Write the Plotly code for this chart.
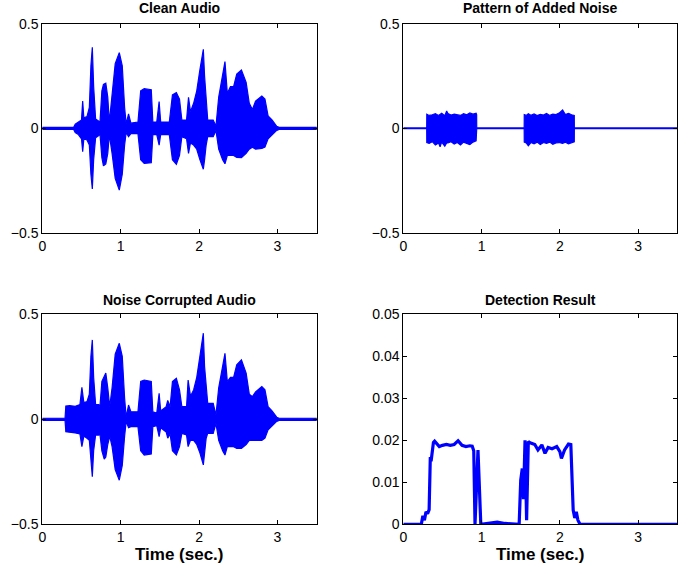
import plotly.graph_objects as go

# ---------------- data ----------------
# Clean audio: envelope (upper / lower) of the waveform
clean_t = [0, 0.40, 0.42, 0.46, 0.50, 0.515, 0.53, 0.57, 0.60, 0.62, 0.638, 0.655, 0.68, 0.72, 0.735,
           0.76, 0.78, 0.81, 0.835, 0.855, 0.89, 0.93, 0.982, 1.02, 1.05, 1.07, 1.10, 1.13, 1.22,
           1.255, 1.30, 1.39, 1.41, 1.46, 1.49, 1.51, 1.62, 1.66, 1.71, 1.75, 1.78, 1.84, 1.865,
           1.89, 1.93, 1.97, 2.01, 2.054, 2.07, 2.09, 2.11, 2.18, 2.215, 2.25, 2.30, 2.33, 2.36,
           2.40, 2.44, 2.48, 2.54, 2.60, 2.64, 2.68, 2.72, 2.80, 2.84, 2.88, 2.93, 2.99, 3.02, 3.5]
clean_up = [0.005, 0.005, 0.02, 0.03, 0.04, 0.131, 0.05, 0.056, 0.10, 0.30, 0.388, 0.20, 0.045, 0.035, 0.025,
            0.18, 0.21, 0.216, 0.15, 0.03, 0.15, 0.31, 0.363, 0.30, 0.10, 0.02, 0.069, 0.025, 0.03,
            0.18, 0.19, 0.185, 0.03, 0.03, 0.128, 0.03, 0.03, 0.16, 0.171, 0.14, 0.04, 0.04, 0.149,
            0.08, 0.12, 0.18, 0.28, 0.379, 0.25, 0.15, 0.04, 0.04, 0.01, 0.15, 0.25, 0.32, 0.168,
            0.20, 0.20, 0.26, 0.28, 0.22, 0.12, 0.09, 0.13, 0.155, 0.14, 0.06, 0.04, 0.01, 0.005, 0.005]
clean_lo = [-0.005, -0.005, -0.02, -0.03, -0.05, -0.112, -0.05, -0.056, -0.08, -0.22, -0.29, -0.15, -0.045, -0.035, -0.025,
            -0.14, -0.18, -0.17, -0.12, -0.03, -0.12, -0.24, -0.296, -0.22, -0.08, -0.02, -0.04, -0.025, -0.025,
            -0.15, -0.168, -0.165, -0.03, -0.03, -0.08, -0.03, -0.03, -0.15, -0.172, -0.13, -0.04, -0.05, -0.12,
            -0.07, -0.08, -0.10, -0.15, -0.196, -0.15, -0.08, -0.04, -0.04, -0.01, -0.10, -0.15, -0.17, -0.13,
            -0.128, -0.13, -0.139, -0.14, -0.12, -0.10, -0.09, -0.10, -0.096, -0.09, -0.05, -0.03, -0.01, -0.005, -0.005]

# Pattern of added noise: two bursts
noise_t = [0, 0.299, 0.30, 0.33, 0.37, 0.41, 0.45, 0.47, 0.49, 0.53, 0.554, 0.57, 0.61, 0.65, 0.69, 0.73, 0.77,
           0.81, 0.85, 0.89, 0.93, 0.937, 0.938,
           1.544, 1.545, 1.57, 1.597, 1.63, 1.67, 1.71, 1.75, 1.79, 1.83, 1.87, 1.91, 1.95, 1.99, 2.035,
           2.07, 2.11, 2.15, 2.184, 2.185, 3.5]
noise_up = [0.002, 0.002, 0.068, 0.062, 0.065, 0.070, 0.062, 0.066, 0.072, 0.060, 0.083, 0.071, 0.064, 0.068,
            0.066, 0.062, 0.070, 0.065, 0.074, 0.068, 0.072, 0.066, 0.002,
            0.002, 0.066, 0.062, 0.070, 0.063, 0.069, 0.061, 0.067, 0.064, 0.071, 0.062, 0.068, 0.066, 0.073,
            0.088, 0.066, 0.072, 0.065, 0.062, 0.002, 0.002]
noise_lo = [-0.002, -0.002, -0.068, -0.072, -0.064, -0.080, -0.070, -0.088, -0.066, -0.085, -0.070, -0.070,
            -0.064, -0.075, -0.068, -0.080, -0.066, -0.072, -0.078, -0.066, -0.060, -0.060, -0.002,
            -0.002, -0.066, -0.070, -0.083, -0.068, -0.074, -0.066, -0.078, -0.068, -0.072, -0.066, -0.076,
            -0.070, -0.068, -0.072, -0.066, -0.074, -0.068, -0.064, -0.002, -0.002]

# Noise corrupted audio: envelope
noisy_t = [0, 0.29, 0.30, 0.35, 0.42, 0.48, 0.505, 0.53, 0.57, 0.60, 0.62, 0.638, 0.655, 0.68, 0.72, 0.735,
           0.76, 0.79, 0.81, 0.835, 0.86, 0.89, 0.93, 0.982, 1.02, 1.05, 1.07, 1.10, 1.13, 1.22,
           1.255, 1.30, 1.39, 1.41, 1.46, 1.49, 1.51, 1.58, 1.60, 1.63, 1.66, 1.71, 1.75, 1.78, 1.84,
           1.86, 1.89, 1.93, 1.97, 2.01, 2.054, 2.07, 2.09, 2.11, 2.18, 2.215, 2.25, 2.30, 2.33, 2.36,
           2.40, 2.44, 2.48, 2.54, 2.60, 2.64, 2.68, 2.72, 2.80, 2.84, 2.88, 2.93, 2.99, 3.02, 3.5]
noisy_up = [0.005, 0.005, 0.063, 0.065, 0.062, 0.07, 0.152, 0.08, 0.084, 0.12, 0.30, 0.378, 0.20, 0.07, 0.07, 0.06,
            0.18, 0.21, 0.22, 0.15, 0.06, 0.15, 0.31, 0.362, 0.30, 0.10, 0.01, 0.068, 0.036, 0.036,
            0.18, 0.187, 0.18, 0.035, 0.03, 0.124, 0.04, 0.06, 0.09, 0.06, 0.18, 0.195, 0.14, 0.06, 0.06,
            0.187, 0.11, 0.14, 0.20, 0.30, 0.41, 0.25, 0.15, 0.076, 0.076, 0.02, 0.15, 0.25, 0.314, 0.18,
            0.20, 0.20, 0.26, 0.283, 0.22, 0.12, 0.108, 0.13, 0.156, 0.14, 0.06, 0.04, 0.01, 0.005, 0.005]
noisy_lo = [-0.005, -0.005, -0.059, -0.063, -0.065, -0.07, -0.13, -0.08, -0.09, -0.10, -0.20, -0.273, -0.15, -0.075, -0.075, -0.07,
            -0.15, -0.19, -0.18, -0.12, -0.08, -0.13, -0.24, -0.29, -0.22, -0.08, -0.01, -0.04, -0.035, -0.035,
            -0.15, -0.17, -0.165, -0.035, -0.03, -0.083, -0.04, -0.06, -0.09, -0.07, -0.15, -0.17, -0.13, -0.067, -0.075,
            -0.13, -0.10, -0.10, -0.12, -0.16, -0.217, -0.15, -0.09, -0.067, -0.067, -0.02, -0.10, -0.15, -0.17, -0.13,
            -0.13, -0.13, -0.138, -0.138, -0.12, -0.10, -0.10, -0.10, -0.10, -0.09, -0.05, -0.03, -0.01, -0.005, -0.005]

# Detection result
det_t = [0, 0.23, 0.25, 0.27, 0.29, 0.31, 0.33, 0.345, 0.355, 0.37, 0.385, 0.40, 0.43, 0.46, 0.50, 0.55,
         0.60, 0.65, 0.70, 0.75, 0.80, 0.85, 0.88, 0.90, 0.916, 0.954, 0.99, 1.10, 1.20, 1.30, 1.40, 1.48,
         1.50, 1.52, 1.535, 1.555, 1.575, 1.597, 1.62, 1.68, 1.72, 1.77, 1.81, 1.85, 1.90, 1.96, 2.00,
         2.02, 2.06, 2.11, 2.14, 2.17, 2.19, 2.21, 2.23, 2.257, 2.30, 3.5]
det_v = [0, 0, 0.002, 0.001, 0.003, 0.0025, 0.0035, 0.016, 0.015, 0.018, 0.0195, 0.0198, 0.019, 0.0185,
         0.0188, 0.019, 0.0188, 0.019, 0.0199, 0.0188, 0.0185, 0.0187, 0.0186, 0.0175, 0, 0.0177, 0,
         0.0003, 0.0005, 0.0002, 0, 0, 0.0105, 0.0133, 0.006, 0.02, 0.001, 0.0197, 0.0194, 0.019, 0.0177,
         0.0189, 0.0169, 0.0183, 0.018, 0.0185, 0.0173, 0.0157, 0.0177, 0.0191, 0.019, 0.0034, 0.0015,
         0.003, 0.001, 0, 0, 0]

titles = ["Clean Audio", "Pattern of Added Noise", "Noise Corrupted Audio", "Detection Result"]
xlabel = "Time (sec.)"
x_ticks = [0, 1, 2, 3]
wave_y_ticks = [-0.5, 0, 0.5]
wave_y_text = ["\u22120.5", "0", "0.5"]
det_y_ticks = [0, 0.01, 0.02, 0.03, 0.04, 0.05]
det_y_text = ["0", "0.01", "0.02", "0.03", "0.04", "0.05"]

# ---------------- figure ----------------
BLUE = "#0000ff"
FONT = "Liberation Sans, Arial, Helvetica, sans-serif"
W, H = 700, 571

fig = go.Figure()

def envelope(t, up, lo, xa, ya):
    fig.add_trace(go.Scatter(
        x=list(t) + list(t)[::-1], y=list(up) + list(lo)[::-1],
        mode="lines", fill="toself", fillcolor=BLUE,
        line=dict(color=BLUE, width=1.2), xaxis=xa, yaxis=ya, showlegend=False, hoverinfo="skip"))

envelope(clean_t, clean_up, clean_lo, "x", "y")
envelope(noise_t, noise_up, noise_lo, "x2", "y2")
envelope(noisy_t, noisy_up, noisy_lo, "x3", "y3")
fig.add_trace(go.Scatter(x=det_t, y=det_v, mode="lines", line=dict(color=BLUE, width=3.2),
                         xaxis="x4", yaxis="y4", showlegend=False))

# pixel boxes in window coordinates (left, right, top, bottom)
boxes = [(42.3, 316.7, 24.0, 232.7), (403.3, 677.3, 24.0, 232.7),
         (42.3, 316.7, 314.3, 524.3), (403.3, 677.3, 314.3, 524.3)]

def px(x):
    return x / W

def py(y):
    return 1 - y / H

axis_common = dict(showline=True, linecolor="black", linewidth=1, mirror="allticks",
                   ticks="inside", ticklen=4, tickcolor="black", showgrid=False, zeroline=False,
                   automargin=False,
                   tickfont=dict(family=FONT, size=14, color="black"))

layout = dict(width=W, height=H, autosize=False, margin=dict(l=0, r=0, t=0, b=0, pad=0, autoexpand=False),
              paper_bgcolor="white", plot_bgcolor="white", showlegend=False)

for i, (l, r, t, b) in enumerate(boxes):
    sfx = "" if i == 0 else str(i + 1)
    xd = [px(l), px(r)]
    yd = [py(b), py(t)]
    layout["xaxis" + sfx] = dict(axis_common, domain=xd, range=[0, 3.5], tickvals=x_ticks,
                                 anchor="y" + sfx)
    if i < 3:
        layout["yaxis" + sfx] = dict(axis_common, domain=yd, range=[-0.5, 0.5], tickvals=wave_y_ticks,
                                     ticktext=wave_y_text, anchor="x" + sfx)
    else:
        layout["yaxis" + sfx] = dict(axis_common, domain=yd, range=[0, 0.05], tickvals=det_y_ticks,
                                     ticktext=det_y_text, anchor="x" + sfx)

ann = []
title_pos = [(179.5, 8.5), (540.3, 8.5), (179.5, 300), (540.3, 300)]
for txt, (x, y) in zip(titles, title_pos):
    ann.append(dict(text="<b>%s</b>" % txt, x=px(x), y=py(y), xref="paper", yref="paper",
                    showarrow=False, xanchor="center", yanchor="middle",
                    font=dict(family=FONT, size=14, color="black")))
for x in (179.5, 540.3):
    ann.append(dict(text="<b>%s</b>" % xlabel, x=px(x), y=py(554), xref="paper", yref="paper",
                    showarrow=False, xanchor="center", yanchor="middle",
                    font=dict(family=FONT, size=17, color="black")))
layout["annotations"] = ann

fig.update_layout(**layout)
# remove the default 8px page margin so the 700x571 figure fills the window exactly
fig.write_html("out.html", config={"displayModeBar": False},
               post_script="document.body.style.margin='0px';document.body.style.overflow='hidden';")
